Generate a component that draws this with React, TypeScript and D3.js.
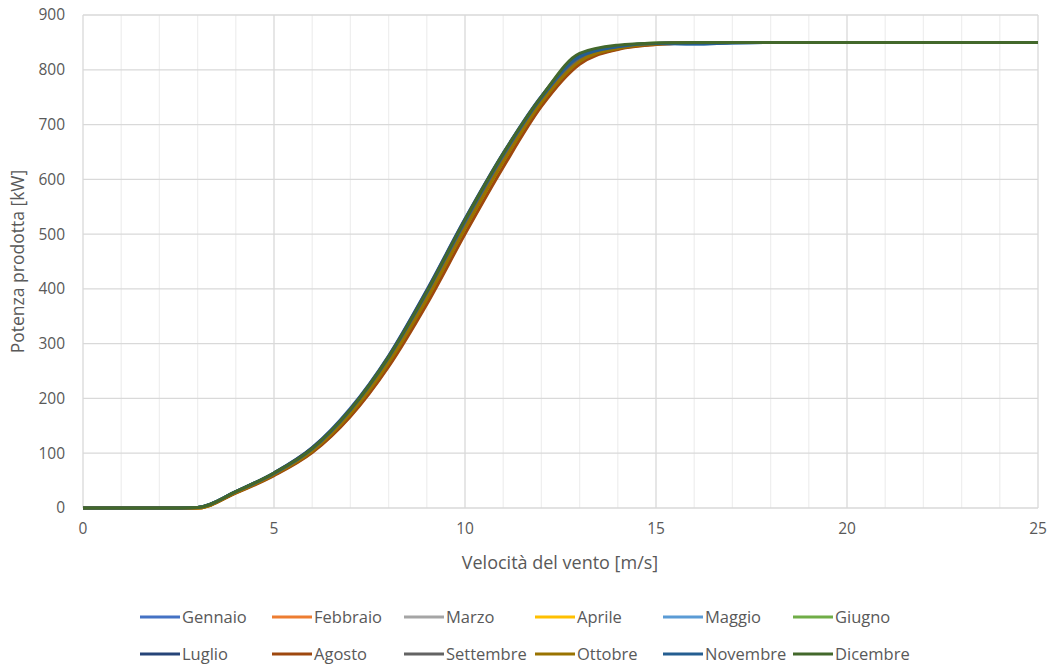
import React from "react";
import * as d3 from "d3";

const windSpeeds = [0,1,2,3,4,5,6,7,8,9,10,11,12,13,14,15,16,17,18,19,20,21,22,23,24,25];

const gennaio   = [0,0,0,1,30,64,110,182,278,398,528,648,752,823,842,848,850,850,850,850,850,850,850,850,850,850];
const febbraio  = [0,0,0,0,28,60,102,168,260,375,502,625,735,812,838,846,849,850,850,850,850,850,850,850,850,850];
const marzo     = [0,0,0,1,29,62,106,176,270,388,516,638,744,820,841,847,850,850,850,850,850,850,850,850,850,850];
const aprile    = [0,0,0,0,28,61,104,171,264,380,508,630,739,815,839,847,849,850,850,850,850,850,850,850,850,850];
const maggio    = [0,0,0,1,30,64,109,180,276,395,525,646,750,824,842,848,847,849,850,850,850,850,850,850,850,850];
const giugno    = [0,0,0,1,29,63,107,177,272,391,520,641,747,826,843,849,850,850,850,850,850,850,850,850,850,850];
const luglio    = [0,0,0,1,30,64,110,181,277,397,527,647,751,826,842,848,850,850,850,850,850,850,850,850,850,850];
const agosto    = [0,0,0,0,27,59,101,167,258,372,500,622,733,810,837,846,849,850,850,850,850,850,850,850,850,850];
const settembre = [0,0,0,1,29,62,106,175,269,386,515,636,743,820,840,848,850,850,850,850,850,850,850,850,850,850];
const ottobre   = [0,0,0,0,28,61,104,172,265,381,510,632,740,815,839,847,850,850,850,850,850,850,850,850,850,850];
const novembre  = [0,0,0,1,30,63,108,179,275,394,524,645,749,824,842,848,847,849,850,850,850,850,850,850,850,850];
const dicembre  = [0,0,0,1,30,64,109,180,276,395,526,647,751,830,845,849,850,850,850,850,850,850,850,850,850,850];

const monthNames = ["Gennaio","Febbraio","Marzo","Aprile","Maggio","Giugno","Luglio","Agosto","Settembre","Ottobre","Novembre","Dicembre"];
const monthColors = ["#4472C4","#ED7D31","#A5A5A5","#FFC000","#5B9BD5","#70AD47","#264478","#9E480E","#636363","#997300","#255E91","#43682B"];
const seriesValues = [gennaio,febbraio,marzo,aprile,maggio,giugno,luglio,agosto,settembre,ottobre,novembre,dicembre];

const xTicks = [0,5,10,15,20,25];
const yTicks = [0,100,200,300,400,500,600,700,800,900];
const xTitle = "Velocità del vento [m/s]";
const yTitle = "Potenza prodotta [kW]";

const FONT = "'Open Sans', 'Noto Sans', sans-serif";

export default function App() {
  const W = 1050, H = 665;
  const left = 83, right = 1038, top = 15, bottom = 508;
  const x = d3.scaleLinear().domain([0, 25]).range([left, right]);
  const y = d3.scaleLinear().domain([0, 900]).range([bottom, top]);
  const minorX = d3.range(0, 26, 1).filter((v) => v % 5 !== 0);
  const line = d3.line<number>()
    .x((_, i) => x(windSpeeds[i]))
    .y((d) => y(d))
    .curve(d3.curveMonotoneX);

  const legendCols = [140, 272, 404, 535, 663, 793];
  const legendRows = [617, 654];

  return (
    <svg width={W} height={H} style={{ position: "absolute", left: 0, top: 0, background: "#fff" }} fontFamily={FONT}>
      <rect x={0} y={0} width={W} height={H} fill="#fff" />
      {minorX.map((v) => (
        <line key={"mx" + v} x1={x(v)} x2={x(v)} y1={top} y2={bottom} stroke="#efefef" strokeWidth={1.3} />
      ))}
      {xTicks.map((v) => (
        <line key={"Mx" + v} x1={x(v)} x2={x(v)} y1={top} y2={bottom} stroke="#d9d9d9" strokeWidth={1.3} />
      ))}
      {yTicks.map((v) => (
        <line key={"My" + v} x1={left} x2={right} y1={y(v)} y2={y(v)} stroke="#d9d9d9" strokeWidth={1.3} />
      ))}
      {seriesValues.map((vals, i) => (
        <path key={monthNames[i]} d={line(vals) || ""} fill="none" stroke={monthColors[i]} strokeWidth={3} strokeLinejoin="round" />
      ))}
      {yTicks.map((v) => (
        <text key={"yl" + v} x={65} y={y(v)} dy="0.35em" textAnchor="end" fontSize={15.5} fill="#595959">{v}</text>
      ))}
      {xTicks.map((v) => (
        <text key={"xl" + v} x={x(v)} y={529} dy="0.35em" textAnchor="middle" fontSize={15.5} fill="#595959">{v}</text>
      ))}
      <text x={560} y={563} dy="0.35em" textAnchor="middle" fontSize={18} fill="#595959">{xTitle}</text>
      <text transform={`translate(18, ${(top + bottom) / 2}) rotate(-90)`} dy="0.35em" textAnchor="middle" fontSize={17.5} fill="#595959">{yTitle}</text>
      {monthNames.map((name, i) => {
        const col = i % 6;
        const row = Math.floor(i / 6);
        const lx = legendCols[col];
        const ly = legendRows[row];
        return (
          <g key={"lg" + name}>
            <line x1={lx} x2={lx + 40} y1={ly} y2={ly} stroke={monthColors[i]} strokeWidth={3} />
            <text x={lx + 42} y={ly} dy="0.35em" fontSize={16.5} fill="#595959">{name}</text>
          </g>
        );
      })}
    </svg>
  );
}
